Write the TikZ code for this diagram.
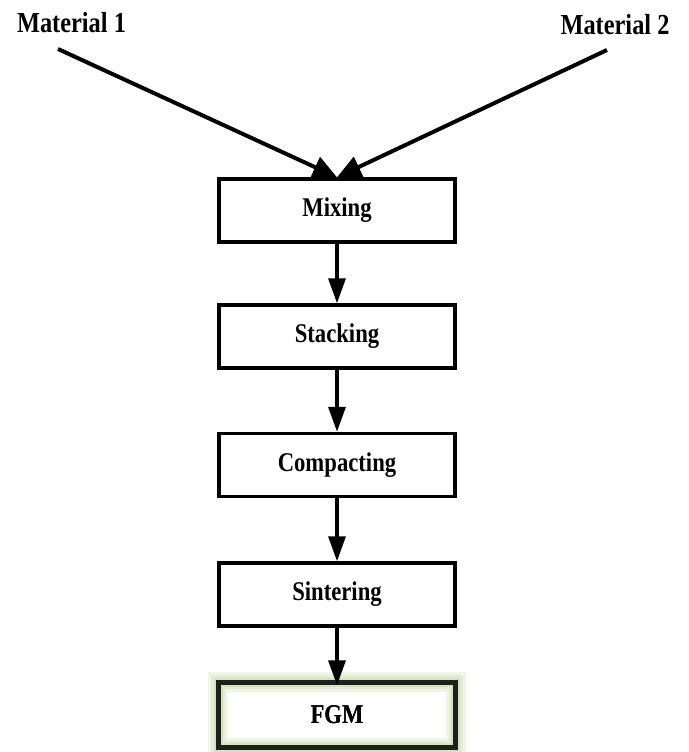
\documentclass[tikz,border=0pt]{standalone}
\usepackage{fontspec}
\newfontfamily\tnr{Liberation Serif}[FakeStretch=0.84]
\usetikzlibrary{arrows.meta}
\definecolor{glowA}{HTML}{F0F5E8}
\definecolor{glowB}{HTML}{E2ECD3}
\definecolor{glowC}{HTML}{D4E2BE}
\tikzset{
  procbox/.style={draw=black, line width=3.5pt, rectangle, inner sep=0pt,
    minimum width=236pt, minimum height=63pt,
    font=\tnr\bfseries\fontsize{27}{30}\selectfont},
  fgmbox/.style={rectangle, inner sep=0pt, minimum width=237pt, minimum height=65pt,
    font=\tnr\bfseries\fontsize{27}{30}\selectfont},
  matlabel/.style={inner sep=0pt, font=\tnr\bfseries\fontsize{29}{32}\selectfont},
  flow/.style={line width=3.5pt, -{Triangle[length=25pt,width=17pt]}},
  feed/.style={line width=4pt, -{Triangle[length=24pt,width=22pt]}}
}
\begin{document}
\begin{tikzpicture}[x=1pt,y=-1pt]
\useasboundingbox (0,0) rectangle (688,752);
\fill[white] (0,0) rectangle (688,752);

\node[matlabel, anchor=base] (m1) at (71.5,33) {Material 1};
\node[matlabel, anchor=base] (m2) at (615,35) {Material 2};

\node[procbox] (mix) at (337,210.5) {Mixing};
\node[procbox] (stack) at (337,336.5) {Stacking};
\node[procbox] (comp) at (337,465) {Compacting};
\node[procbox] (sint) at (337,594.5) {Sintering};
\node[fgmbox] (fgm) at (337,715) {FGM};

\draw[line width=20pt, glowA] (fgm.north west) rectangle (fgm.south east);
\draw[line width=14pt, glowB] (fgm.north west) rectangle (fgm.south east);
\draw[line width=9pt, glowC] (fgm.north west) rectangle (fgm.south east);
\draw[line width=5pt, black!88] (fgm.north west) rectangle (fgm.south east);
\node[fgmbox] at (fgm.center) {FGM};

\coordinate (s1) at (58,49);
\coordinate (s2) at (607,50);
\draw[feed] (s1) -- (mix.north);
\draw[feed] (s2) -- (mix.north);

\draw[flow] (mix.south) -- (stack.north);
\draw[flow] (stack.south) -- (comp.north);
\draw[flow] (comp.south) -- (sint.north);
\draw[flow] (sint.south) -- ([yshift=-3pt]fgm.north);
\end{tikzpicture}
\end{document}
